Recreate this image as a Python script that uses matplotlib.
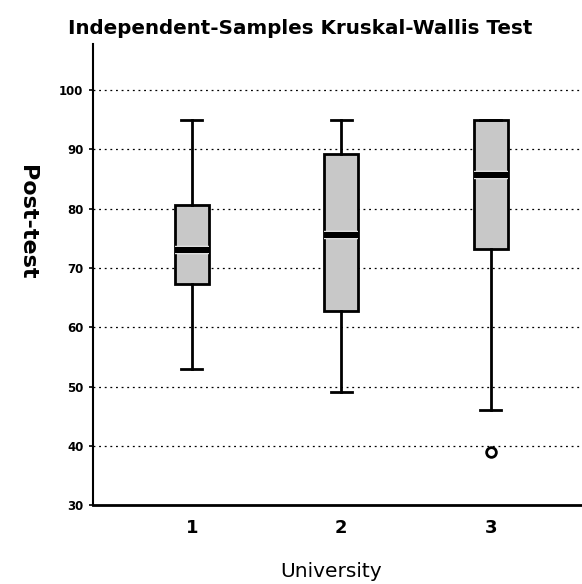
import matplotlib
matplotlib.use("Agg")
import matplotlib.pyplot as plt
import matplotlib.patheffects as pe

categories = ["1", "2", "3"]
whisker_low = [53, 49, 46]
q1 = [67.3, 62.8, 73.2]
median = [73.1, 75.5, 85.6]
q3 = [80.7, 89.3, 95]
whisker_high = [95, 95, 95]
outliers = [[], [], [39]]
y_ticks = [30, 40, 50, 60, 70, 80, 90, 100]

title = "Independent-Samples Kruskal-Wallis Test"
xlabel = "University"
ylabel = "Post-test"

plt.rcParams['font.family'] = ['DejaVu Sans']

fig = plt.figure(figsize=(5.82, 5.84), dpi=100)
ax = fig.add_axes([0.16, 0.135, 0.84, 0.79])

stats = []
for i, c in enumerate(categories):
    stats.append(dict(label=c, whislo=whisker_low[i], q1=q1[i], med=median[i],
                      q3=q3[i], whishi=whisker_high[i], fliers=outliers[i]))

positions = list(range(1, len(categories) + 1))
for y in y_ticks[1:]:
    ax.axhline(y, color='black', lw=0.9, ls=(0, (1.5, 3)), zorder=0)

bp = ax.bxp(stats, positions=positions, widths=0.23, patch_artist=True,
            showfliers=True,
            boxprops=dict(facecolor='#c8c8c8', edgecolor='black', lw=2),
            whiskerprops=dict(color='black', lw=2),
            capprops=dict(color='black', lw=2),
            medianprops=dict(color='black', lw=4.5,
                             path_effects=[pe.Stroke(linewidth=6, foreground='white'), pe.Normal()]),
            flierprops=dict(marker='o', markerfacecolor='white', markeredgecolor='black',
                            markersize=7, markeredgewidth=2),
            capwidths=0.14, zorder=3)

ax.set_xlim(0.34, 3.61)
ax.set_ylim(30, 107.8)
ax.set_yticks(y_ticks)
ax.set_yticklabels([str(t) for t in y_ticks], fontsize=8.5, fontweight='bold')
ax.set_xticks(positions)
ax.set_xticklabels(categories, fontsize=13, fontweight='bold')
ax.tick_params(axis='x', length=0, pad=10)
ax.tick_params(axis='y', length=3, width=1.2, pad=4)
for s in ['top', 'right']:
    ax.spines[s].set_visible(False)
ax.spines['left'].set_linewidth(1.5)
ax.spines['bottom'].set_linewidth(2)

fig.text(0.515, 0.952, title, ha='center', va='center', fontsize=14.3, fontweight='bold')
fig.text(0.047, 0.62, ylabel, ha='center', va='center', fontsize=16, fontweight='bold', rotation=270)
fig.text(0.568, 0.022, xlabel, ha='center', va='center', fontsize=14.5)

fig.savefig("out.png", dpi=100)
